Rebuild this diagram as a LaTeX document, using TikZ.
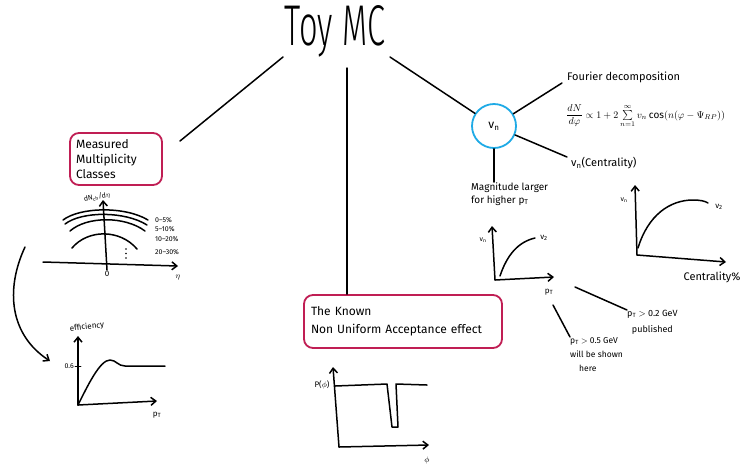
\documentclass[tikz,border=0pt]{standalone}
\usepackage{fontspec}
\usepackage{amsmath}
\usepackage{graphicx}
\IfFontExistsTF{Fira Sans}{\setmainfont{Fira Sans}}{\setmainfont{Liberation Sans}}
\IfFontExistsTF{Fira Sans Light}{\newfontfamily\titlefont{Fira Sans Light}}{\newfontfamily\titlefont{DejaVu Sans}}
\usetikzlibrary{arrows.meta}
\definecolor{boxred}{RGB}{192,30,84}
\definecolor{circblue}{RGB}{30,170,230}
\tikzset{
  pen/.style={line width=1.5pt, line cap=round, line join=round},
  axis/.style={pen, -{Straight Barb[length=5pt,width=8pt]}},
  redbox/.style={draw=boxred, line width=1.8pt, rounded corners=9pt, align=left},
  hand/.style={font=\fontsize{11}{13}\selectfont, inner sep=1pt},
  small/.style={font=\fontsize{8}{9}\selectfont, inner sep=1pt},
  tiny/.style={font=\fontsize{7}{8}\selectfont, inner sep=1pt},
}
\begin{document}
\begin{tikzpicture}[x=1pt,y=-1pt]
\fill[white] (0,0) rectangle (746,467);
\useasboundingbox (0,0) rectangle (746,467);

% title
\node[inner sep=0pt] (toy) at (335,31) {\resizebox{100pt}{40pt}{\titlefont Toy MC}};
\coordinate (t1) at (283,57);
\coordinate (t2) at (347,68);
\coordinate (t3) at (390,57);

% boxes
\node[redbox, text width=80pt, minimum width=92pt, minimum height=52pt, inner sep=6pt,
      font=\fontsize{12}{15}\selectfont] (meas) at (116,159) {Measured\\Multiplicity\\Classes};
\node[redbox, text width=184pt, minimum width=198pt, minimum height=53pt, inner sep=7pt,
      font=\fontsize{12}{18}\selectfont] (known) at (403,321.5) {The Known\\Non Uniform Acceptance effect};
\node[circle, draw=circblue, line width=1.8pt, minimum size=44pt, inner sep=0pt,
      font=\fontsize{12}{14}\selectfont] (vn) at (494,126) {v\textsubscript{n}};

% connectors from title
\coordinate (m1) at (180,141);
\draw[pen] (t1) -- (m1);
\draw[pen] (t2) -- (t2 |- known.north);
\draw[pen] (t3) -- (vn);

% --- dN/deta plot
\draw[axis] (43,262) -- (178,266);
\draw[axis] (107,270) -- (103,200);
\node[tiny, rotate=10] (dnlab) at (97,197) {dN\textsubscript{ch}/d$\eta$};
\draw[pen] (63,220) .. controls (80,207) and (125,206) .. (148,220);
\draw[pen] (65,224) .. controls (82,211) and (125,211) .. (147,225);
\draw[pen] (70,231) .. controls (87,216) and (125,216) .. (145,231);
\draw[pen] (72,248) .. controls (88,229) and (120,229) .. (137,249);
\node[tiny, anchor=west] (c05) at (154,220) {0--5\%};
\node[tiny, anchor=west] (c510) at (154,229) {5--10\%};
\node[tiny, anchor=west] (c1020) at (154,239) {10--20\%};
\node[tiny, anchor=west] (c2030) at (154,252) {20--30\%};
\foreach \yy in {249,253.5,258} \fill (126,\yy) circle (0.8pt);
\node[small] (zero) at (107,274) {0};
\node[small] (eta) at (178,278) {$\eta$};

% curved arrow
\draw[axis] (25,247) .. controls (5,290) and (10,335) .. (50,361);

% --- efficiency plot
\draw[axis] (78,405) -- (78,336);
\draw[axis] (78,405) -- (157,401);
\draw[pen] (78,405) .. controls (88,385) and (100,360) .. (110,360) .. controls (116,360) and (118,366) .. (125,366) -- (165,366);
\draw[pen, line width=0.8pt] (75,366) -- (81,366);
\node[tiny, anchor=east] (six) at (75,366) {0.6};
\node[small, rotate=6] (eff) at (87,327) {efficiency};
\node[small] (ptA) at (157,415) {p\textsubscript{T}};

% --- P(phi) plot
\draw[axis] (339,447) -- (333,367);
\draw[axis] (339,447) -- (429,445);
\draw[pen] (335,386) -- (387,384) -- (392,427) -- (398,427) -- (396,384) -- (427,385);
\node[small] (pphi) at (322,385) {P($\phi$)};
\node[small] (phi) at (427,460) {$\phi$};

% --- right side
\coordinate (f1) at (562,83);
\draw[pen] (vn) -- (f1);
\node[hand, anchor=west] (four) at (566,77) {Fourier decomposition};
\node[anchor=west, inner sep=0pt, font=\fontsize{10}{12}\selectfont] (form) at (566,116)
  {$\dfrac{dN}{d\varphi}\propto 1+2\mathop{\textstyle\sum}\limits_{n=1}^{\infty} v_n\cos(n(\varphi-\Psi_{RP}))$};
\coordinate (c1) at (567,157);
\draw[pen] (vn) -- (c1);
\node[hand, anchor=west] (cent) at (570,163) {v\textsubscript{n}(Centrality)};
\node[anchor=north west, align=left, inner sep=0pt, font=\fontsize{10}{13}\selectfont] (mag) at (471,182)
  {Magnitude larger\\for higher p\textsubscript{T}};
\draw[pen] (vn.south) -- (vn.south |- mag.north);

% vn vs pT plot
\draw[axis] (495,280) -- (492,226);
\draw[axis] (495,280) -- (554,277);
\draw[pen] (500,276) .. controls (507,255) and (518,242) .. (535,238);
\node[tiny] (vnA) at (483,240) {v\textsubscript{n}};
\node[small] (v2A) at (544,238) {v\textsubscript{2}};
\node[small] (ptB) at (549,292) {p\textsubscript{T}};

\node[align=center, anchor=north west, inner sep=0pt, font=\fontsize{9}{16}\selectfont] (pub) at (627,310)
  {p\textsubscript{T} $>$ 0.2 GeV\\published};
\coordinate (p1) at (575,287);
\draw[pen] (p1) -- (pub.north west);
\node[align=left, anchor=north west, inner sep=0pt, font=\fontsize{8.5}{14}\selectfont] (shown) at (570,337)
  {p\textsubscript{T} $>$ 0.5 GeV\\will be shown\\\hspace*{9pt}here};
\coordinate (q1) at (553,305);
\draw[pen] (q1) -- (shown.north west);

% vn vs centrality plot
\draw[axis] (637,255) -- (635,185);
\draw[axis] (637,255) -- (726,262);
\draw[pen] (638,248) .. controls (648,215) and (670,200) .. (693,200) .. controls (700,200) and (705,201) .. (708,203);
\node[tiny] (vnB) at (624,200) {v\textsubscript{n}};
\node[small] (v2B) at (719,207) {v\textsubscript{2}};
\node[hand] (centp) at (712,277) {Centrality\%};
\end{tikzpicture}
\end{document}
